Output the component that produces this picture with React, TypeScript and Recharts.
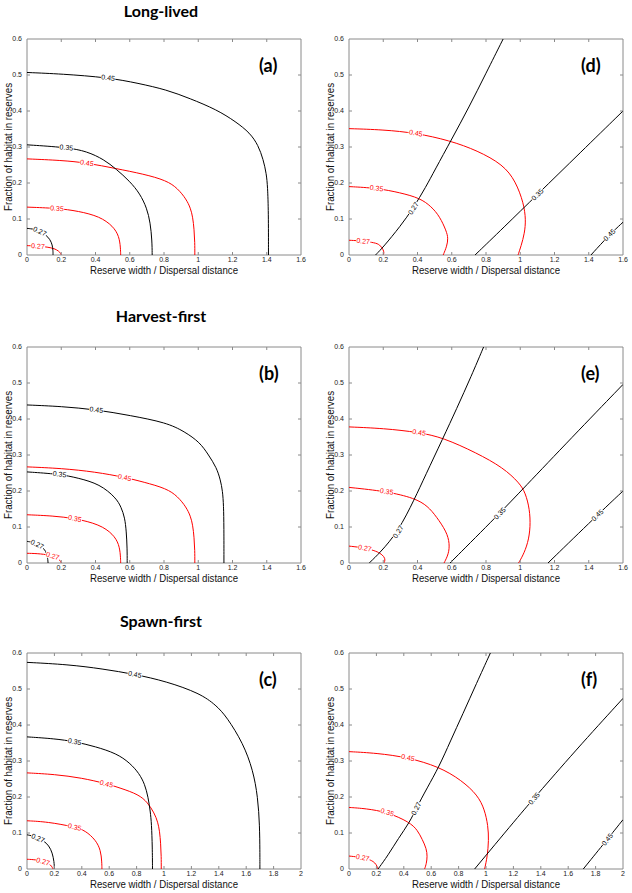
import React from 'react';
import { LineChart, Line, XAxis, YAxis, ReferenceArea } from 'recharts';

type Pt = [number, number];
interface Contour {
  level: string;
  at: number; // index of the point that carries the inline label
  pts: Pt[];
}

// axis ticks
const xTicksShort = [0, 0.2, 0.4, 0.6, 0.8, 1, 1.2, 1.4, 1.6];
const xTicksLong = [0, 0.2, 0.4, 0.6, 0.8, 1, 1.2, 1.4, 1.6, 1.8, 2];
const yTicks = [0, 0.1, 0.2, 0.3, 0.4, 0.5, 0.6];

// (a) Long-lived
const longLivedBlack: Contour[] = [
  { level: '0.45', at: 2, pts: [[0, 0.507], [0.2, 0.503], [0.474, 0.493], [0.65, 0.477], [0.815, 0.459], [0.95, 0.435], [1.107, 0.404], [1.22, 0.37], [1.302, 0.339], [1.35, 0.305], [1.38, 0.265], [1.398, 0.225], [1.405, 0.19], [1.41, 0.12], [1.41, 0]] },
  { level: '0.35', at: 1, pts: [[0, 0.306], [0.23, 0.299], [0.35, 0.288], [0.45, 0.265], [0.52, 0.239], [0.6, 0.205], [0.66, 0.17], [0.7, 0.13], [0.72, 0.09], [0.73, 0.04], [0.731, 0]] },
  { level: '0.27', at: 2, pts: [[0, 0.074], [0.04, 0.072], [0.075, 0.066], [0.11, 0.056], [0.135, 0.043], [0.148, 0.028], [0.152, 0.012], [0.152, 0]] },
];
const longLivedRed: Contour[] = [
  { level: '0.45', at: 2, pts: [[0, 0.267], [0.2, 0.263], [0.35, 0.256], [0.52, 0.24], [0.68, 0.225], [0.815, 0.207], [0.88, 0.185], [0.93, 0.155], [0.955, 0.13], [0.968, 0.105], [0.976, 0.07], [0.98, 0.035], [0.98, 0]] },
  { level: '0.35', at: 1, pts: [[0, 0.133], [0.175, 0.13], [0.3, 0.122], [0.425, 0.107], [0.503, 0.08], [0.538, 0.052], [0.546, 0.02], [0.547, 0]] },
  { level: '0.27', at: 1, pts: [[0, 0.026], [0.064, 0.025], [0.12, 0.022], [0.16, 0.018], [0.185, 0.011], [0.198, 0.004], [0.2, 0]] },
];

// (d)
const longLivedBlackD: Contour[] = [
  { level: '0.27', at: 3, pts: [[0.155, 0], [0.2, 0.022], [0.3, 0.08], [0.375, 0.13], [0.45, 0.19], [0.5, 0.235], [0.6, 0.322], [0.7, 0.41], [0.8, 0.505], [0.9, 0.6]] },
  { level: '0.35', at: 2, pts: [[0.736, 0], [0.9, 0.075], [1.1, 0.168], [1.35, 0.284], [1.6, 0.4]] },
  { level: '0.45', at: 1, pts: [[1.413, 0], [1.52, 0.056], [1.6, 0.091]] },
];
const longLivedRedD: Contour[] = [
  { level: '0.45', at: 2, pts: [[0, 0.351], [0.2, 0.348], [0.39, 0.339], [0.588, 0.318], [0.75, 0.29], [0.9, 0.251], [0.973, 0.205], [1.02, 0.144], [1.033, 0.098], [1.025, 0.06], [1.005, 0.025], [0.987, 0]] },
  { level: '0.35', at: 1, pts: [[0, 0.19], [0.161, 0.186], [0.3, 0.173], [0.414, 0.158], [0.48, 0.135], [0.53, 0.107], [0.569, 0.066], [0.579, 0.047], [0.572, 0.025], [0.55, 0]] },
  { level: '0.27', at: 1, pts: [[0, 0.041], [0.083, 0.039], [0.15, 0.034], [0.18, 0.029], [0.2, 0.015], [0.205, 0.006], [0.2, 0]] },
];

// (b) Harvest-first
const harvestBlack: Contour[] = [
  { level: '0.45', at: 2, pts: [[0, 0.439], [0.2, 0.435], [0.405, 0.426], [0.6, 0.41], [0.815, 0.39], [0.92, 0.365], [1.01, 0.335], [1.06, 0.3], [1.107, 0.265], [1.13, 0.23], [1.142, 0.2], [1.148, 0.16], [1.15, 0.1], [1.15, 0]] },
  { level: '0.35', at: 1, pts: [[0, 0.253], [0.19, 0.247], [0.3, 0.236], [0.425, 0.219], [0.52, 0.181], [0.55, 0.155], [0.571, 0.126], [0.58, 0.088], [0.585, 0.04], [0.585, 0]] },
  { level: '0.27', at: 2, pts: [[0, 0.06], [0.03, 0.058], [0.06, 0.052], [0.09, 0.044], [0.11, 0.033], [0.12, 0.018], [0.123, 0]] },
];
const harvestRed: Contour[] = [
  { level: '0.45', at: 3, pts: [[0, 0.267], [0.2, 0.263], [0.4, 0.253], [0.571, 0.238], [0.68, 0.225], [0.815, 0.207], [0.88, 0.185], [0.93, 0.155], [0.955, 0.13], [0.968, 0.105], [0.976, 0.07], [0.98, 0.035], [0.98, 0]] },
  { level: '0.35', at: 2, pts: [[0, 0.134], [0.15, 0.131], [0.28, 0.124], [0.425, 0.107], [0.503, 0.08], [0.538, 0.052], [0.546, 0.02], [0.547, 0]] },
  { level: '0.27', at: 2, pts: [[0, 0.027], [0.08, 0.026], [0.15, 0.02], [0.185, 0.011], [0.198, 0.004], [0.2, 0]] },
];

// (e)
const harvestBlackE: Contour[] = [
  { level: '0.27', at: 2, pts: [[0.118, 0], [0.18, 0.028], [0.287, 0.087], [0.385, 0.18], [0.443, 0.24], [0.55, 0.348], [0.627, 0.427], [0.715, 0.52], [0.786, 0.6]] },
  { level: '0.35', at: 1, pts: [[0.59, 0], [0.88, 0.138], [1.016, 0.206], [1.3, 0.348], [1.6, 0.496]] },
  { level: '0.45', at: 1, pts: [[1.162, 0], [1.45, 0.133], [1.6, 0.2]] },
];
const harvestRedE: Contour[] = [
  { level: '0.45', at: 2, pts: [[0, 0.378], [0.2, 0.374], [0.41, 0.363], [0.55, 0.348], [0.744, 0.306], [0.9, 0.265], [0.996, 0.222], [1.03, 0.195], [1.055, 0.15], [1.06, 0.1], [1.045, 0.055], [1.015, 0.02], [0.99, 0]] },
  { level: '0.35', at: 1, pts: [[0, 0.21], [0.22, 0.199], [0.385, 0.18], [0.46, 0.158], [0.51, 0.129], [0.57, 0.087], [0.588, 0.054], [0.582, 0.025], [0.555, 0]] },
  { level: '0.27', at: 1, pts: [[0, 0.047], [0.093, 0.042], [0.15, 0.034], [0.18, 0.028], [0.205, 0.018], [0.212, 0.008], [0.204, 0]] },
];

// (c) Spawn-first
const spawnBlack: Contour[] = [
  { level: '0.45', at: 3, pts: [[0, 0.574], [0.3, 0.568], [0.55, 0.556], [0.787, 0.541], [1.018, 0.521], [1.262, 0.488], [1.38, 0.455], [1.457, 0.423], [1.578, 0.349], [1.65, 0.274], [1.685, 0.2], [1.698, 0.12], [1.7, 0.05], [1.7, 0]] },
  { level: '0.35', at: 2, pts: [[0, 0.367], [0.2, 0.362], [0.348, 0.354], [0.5, 0.34], [0.653, 0.321], [0.75, 0.295], [0.82, 0.265], [0.86, 0.235], [0.884, 0.2], [0.9, 0.16], [0.909, 0.126], [0.915, 0.06], [0.916, 0]] },
  { level: '0.27', at: 2, pts: [[0, 0.095], [0.04, 0.092], [0.08, 0.086], [0.12, 0.079], [0.16, 0.065], [0.185, 0.045], [0.198, 0.02], [0.2, 0]] },
];
const spawnRed: Contour[] = [
  { level: '0.45', at: 3, pts: [[0, 0.267], [0.2, 0.263], [0.4, 0.253], [0.58, 0.237], [0.68, 0.225], [0.815, 0.207], [0.88, 0.185], [0.93, 0.155], [0.955, 0.13], [0.968, 0.105], [0.976, 0.07], [0.98, 0.035], [0.98, 0]] },
  { level: '0.35', at: 2, pts: [[0, 0.134], [0.15, 0.131], [0.348, 0.117], [0.425, 0.107], [0.503, 0.08], [0.538, 0.052], [0.546, 0.02], [0.547, 0]] },
  { level: '0.27', at: 2, pts: [[0, 0.027], [0.06, 0.026], [0.117, 0.021], [0.16, 0.015], [0.18, 0.008], [0.19, 0]] },
];

// (f)
const spawnBlackF: Contour[] = [
  { level: '0.27', at: 4, pts: [[0.212, 0], [0.285, 0.038], [0.36, 0.085], [0.443, 0.13], [0.49, 0.168], [0.57, 0.225], [0.657, 0.284], [0.74, 0.355], [0.83, 0.43], [0.93, 0.515], [1.032, 0.6]] },
  { level: '0.35', at: 2, pts: [[0.917, 0], [1.28, 0.166], [1.35, 0.196], [1.65, 0.328], [2, 0.474]] },
  { level: '0.45', at: 1, pts: [[1.71, 0], [1.885, 0.082], [2, 0.137]] },
];
const spawnRedF: Contour[] = [
  { level: '0.45', at: 2, pts: [[0, 0.326], [0.2, 0.322], [0.43, 0.31], [0.657, 0.284], [0.82, 0.247], [0.94, 0.205], [0.99, 0.165], [1.015, 0.12], [1.02, 0.08], [1.01, 0.035], [0.99, 0]] },
  { level: '0.35', at: 2, pts: [[0, 0.171], [0.12, 0.168], [0.28, 0.158], [0.443, 0.13], [0.5, 0.108], [0.535, 0.082], [0.565, 0.057], [0.572, 0.035], [0.565, 0.015], [0.552, 0]] },
  { level: '0.27', at: 1, pts: [[0, 0.036], [0.1, 0.032], [0.16, 0.025], [0.19, 0.017], [0.205, 0.008], [0.21, 0]] },
];

const BLACK = '#000';
const RED = '#ff0000';
const FRAME = '#8a8a8a';
const SANS = 'Arial, "Liberation Sans", Helvetica, sans-serif';
const TITLE_FONT = 'Lato, "Open Sans", sans-serif';

// plot geometry
const PW = 274;
const PH = 216;
const YW = 27;
const MT = 5;
const MR = 6;
const XH = 30;
const TICK = 3;

const fmt = (v: number) => String(+v.toFixed(1));

const XTick = (props: any) => {
  const { x, y, payload, xMax } = props;
  const v = payload.value;
  const axisY = y - 2;
  const inner = v > 0 && v < xMax;
  return (
    <g>
      <text x={x} y={y} dy="0.72em" textAnchor="middle" fontSize={7} fontFamily={SANS} fill="#222">{fmt(v)}</text>
      {inner && <line x1={x} x2={x} y1={axisY} y2={axisY - TICK} stroke={FRAME} />}
      {inner && <line x1={x} x2={x} y1={axisY - PH} y2={axisY - PH + TICK} stroke={FRAME} />}
    </g>
  );
};

const YTick = (props: any) => {
  const { x, y, payload } = props;
  const v = payload.value;
  const axisX = x + 5;
  const inner = v > 0 && v < 0.6;
  return (
    <g>
      <text x={x} y={y} dy="0.35em" textAnchor="end" fontSize={7} fontFamily={SANS} fill="#222">{fmt(v)}</text>
      {inner && <line x1={axisX} x2={axisX + TICK} y1={y} y2={y} stroke={FRAME} />}
      {inner && <line x1={axisX + PW} x2={axisX + PW - TICK} y1={y} y2={y} stroke={FRAME} />}
    </g>
  );
};

// inline contour label drawn on the labelled point, rotated along the curve
const makeDot = (c: Contour, color: string, sx: number, sy: number) => (p: any) => {
  if (p.index !== c.at) return <g key={p.key} />;
  const a = c.pts[Math.max(c.at - 1, 0)];
  const b = c.pts[Math.min(c.at + 1, c.pts.length - 1)];
  let ang = (Math.atan2(-(b[1] - a[1]) * sy, (b[0] - a[0]) * sx) * 180) / Math.PI;
  if (ang > 90) ang -= 180;
  if (ang < -90) ang += 180;
  const w = 14.5;
  return (
    <g key={p.key} transform={`translate(${p.cx},${p.cy}) rotate(${ang})`}>
      <rect x={-w / 2} y={-3.5} width={w} height={7} fill="#fff" />
      <text textAnchor="middle" dy="0.36em" fontSize={7} fontFamily={SANS} fill={color}>{c.level}</text>
    </g>
  );
};

interface PanelProps {
  left: number;
  top: number;
  xMax: number;
  xTicks: number[];
  black: Contour[];
  red: Contour[];
  tag: string;
}

const Panel: React.FC<PanelProps> = ({ left, top, xMax, xTicks, black, red, tag }) => {
  const sx = PW / xMax;
  const sy = PH / 0.6;
  const series = [
    ...red.map((c) => ({ c, color: RED })),
    ...black.map((c) => ({ c, color: BLACK })),
  ];
  return (
    <div style={{ position: 'absolute', left, top }}>
      <LineChart width={YW + PW + MR} height={MT + PH + XH} margin={{ top: MT, right: MR, bottom: 0, left: 0 }}>
        <XAxis
          type="number"
          dataKey="x"
          domain={[0, xMax]}
          ticks={xTicks}
          interval={0}
          allowDataOverflow
          height={XH}
          axisLine={false}
          tickLine={false}
          tickSize={0}
          tickMargin={2}
          tick={(p: any) => <XTick {...p} xMax={xMax} />}
          label={{
            content: (lp: any) => {
              const vb = lp.viewBox;
              return (
                <text x={vb.x + vb.width / 2} y={vb.y + 15} dy="0.35em" textAnchor="middle" fontSize={10.5}
                  fontFamily={SANS} fill="#111" textLength={148} lengthAdjust="spacingAndGlyphs">
                  Reserve width / Dispersal distance
                </text>
              );
            },
          }}
        />
        <YAxis
          type="number"
          domain={[0, 0.6]}
          ticks={yTicks}
          interval={0}
          allowDataOverflow
          width={YW}
          axisLine={false}
          tickLine={false}
          tickSize={0}
          tickMargin={5}
          tick={(p: any) => <YTick {...p} />}
          label={{
            content: (lp: any) => {
              const vb = lp.viewBox;
              const cx = vb.x + 8.5;
              const cy = vb.y + vb.height / 2;
              return (
                <text x={cx} y={cy} dy="0.35em" textAnchor="middle" fontSize={10.5} fontFamily={SANS} fill="#111"
                  transform={`rotate(-90 ${cx} ${cy})`} textLength={128} lengthAdjust="spacingAndGlyphs">
                  Fraction of habitat in reserves
                </text>
              );
            },
          }}
        />
        <ReferenceArea x1={0} x2={xMax} y1={0} y2={0.6} fill="none" stroke={FRAME} strokeWidth={1} />
        {series.map(({ c, color }, i) => (
          <Line
            key={`${color}-${c.level}-${i}`}
            data={c.pts.map(([x, y]) => ({ x, y }))}
            dataKey="y"
            type="basis"
            stroke={color}
            strokeWidth={1}
            dot={makeDot(c, color, sx, sy)}
            activeDot={false}
            isAnimationActive={false}
          />
        ))}
      </LineChart>
      <div style={{ position: 'absolute', left: YW + 232, top: MT + 17, fontFamily: TITLE_FONT, fontWeight: 700, fontSize: 18, lineHeight: '18px' }}>
        {tag}
      </div>
    </div>
  );
};

const Title: React.FC<{ top: number; text: string }> = ({ top, text }) => (
  <div style={{ position: 'absolute', left: 61, width: 200, top, textAlign: 'center', fontFamily: TITLE_FONT, fontWeight: 700, fontSize: 16, lineHeight: '16px', color: '#000' }}>
    {text}
  </div>
);

export default function App() {
  return (
    <div style={{ position: 'absolute', left: 0, top: 0, width: 632, height: 893, background: '#fff', overflow: 'hidden' }}>
      <Title top={2.5} text="Long-lived" />
      <Title top={308} text="Harvest-first" />
      <Title top={613} text="Spawn-first" />
      <Panel left={0} top={34} xMax={1.6} xTicks={xTicksShort} black={longLivedBlack} red={longLivedRed} tag="(a)" />
      <Panel left={322} top={34} xMax={1.6} xTicks={xTicksShort} black={longLivedBlackD} red={longLivedRedD} tag="(d)" />
      <Panel left={0} top={342} xMax={1.6} xTicks={xTicksShort} black={harvestBlack} red={harvestRed} tag="(b)" />
      <Panel left={322} top={342} xMax={1.6} xTicks={xTicksShort} black={harvestBlackE} red={harvestRedE} tag="(e)" />
      <Panel left={0} top={648} xMax={2} xTicks={xTicksLong} black={spawnBlack} red={spawnRed} tag="(c)" />
      <Panel left={322} top={648} xMax={2} xTicks={xTicksLong} black={spawnBlackF} red={spawnRedF} tag="(f)" />
    </div>
  );
}
